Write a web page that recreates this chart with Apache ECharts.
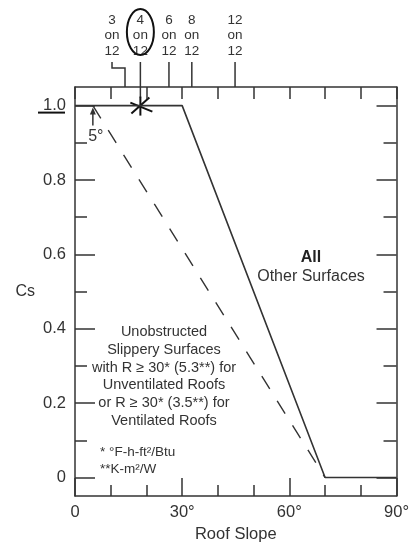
<!DOCTYPE html>
<html lang="en">
<head>
<meta charset="UTF-8">
<title>Roof slope factor Cs</title>
<script src="https://cdn.jsdelivr.net/npm/echarts@6/dist/echarts.min.js"></script>
<style>html,body{margin:0;padding:0;background:#fff;}</style>
</head>
<body>
<div id="main" style="width:412px;height:548px;"></div>
<script type="text/javascript">
// roof slope (deg) vs Cs
var allSurfX = [0, 30, 70, 90];
var allSurfY = [1.0, 1.0, 0, 0];
var slipperyX = [5, 70];
var slipperyY = [1.0, 0];
var yMajor = [0, 0.2, 0.4, 0.6, 0.8, 1.0];
var yMinor = [0.1, 0.3, 0.5, 0.7, 0.9];
var pitchNames = ['3\non\n12', '4\non\n12', '6\non\n12', '8\non\n12', '12\non\n12'];
var pitchAngles = [14.0, 18.3, 26.3, 32.7, 44.8];

var FONT = '"Liberation Sans", Arial, Helvetica, sans-serif';
var INK = '#333';

function zip(xs, ys) {
    var out = [];
    for (var i = 0; i < xs.length; i++) out.push([xs[i], ys[i]]);
    return out;
}

var myChart = echarts.init(document.getElementById('main'));

var option = {
    animation: false,
    backgroundColor: '#fff',
    grid: {left: 75, right: 12, top: 87, bottom: 47},
    xAxis: [{
        type: 'value', position: 'bottom', min: 0, max: 90, interval: 30,
        axisLine: {onZero: false, lineStyle: {color: INK, width: 1.5}},
        axisTick: {inside: true, length: 18, lineStyle: {color: INK, width: 1.5}},
        minorTick: {show: true, splitNumber: 3, length: 11, lineStyle: {color: INK, width: 1.5}},
        splitLine: {show: false},
        axisLabel: {
            margin: 8, fontSize: 16.5, color: INK, fontFamily: FONT,
            formatter: function (v) { return v === 0 ? '0' : v + '°'; }
        },
        name: 'Roof Slope', nameLocation: 'middle', nameGap: 29,
        nameTextStyle: {fontSize: 16.5, color: INK, fontFamily: FONT}
    }, {
        type: 'value', position: 'top', min: 0, max: 90, interval: 10,
        axisLine: {onZero: false, lineStyle: {color: INK, width: 1.5}},
        axisTick: {inside: true, length: 12, lineStyle: {color: INK, width: 1.5}},
        axisLabel: {show: false},
        splitLine: {show: false}
    }],
    yAxis: [{
        type: 'value', position: 'left', min: -0.05, max: 1.05,
        axisLine: {show: true, onZero: false, lineStyle: {color: INK, width: 1.5}},
        axisTick: {show: true, inside: true, length: 20, customValues: yMajor, lineStyle: {color: INK, width: 1.5}},
        axisLabel: {
            customValues: yMajor, margin: 9, fontSize: 16.5, color: INK, fontFamily: FONT,
            formatter: function (v) { return v === 0 ? '0' : v.toFixed(1); }
        },
        splitLine: {show: false},
        name: 'Cs', nameLocation: 'middle', nameGap: 40, nameRotate: 0,
        nameTextStyle: {fontSize: 16, color: INK, fontFamily: FONT}
    }, {
        type: 'value', position: 'left', min: -0.05, max: 1.05,
        axisLine: {show: false, onZero: false},
        axisTick: {show: true, inside: true, length: 12, customValues: yMinor, lineStyle: {color: INK, width: 1.5}},
        axisLabel: {show: false},
        splitLine: {show: false}
    }, {
        type: 'value', position: 'right', min: -0.05, max: 1.05,
        axisLine: {show: true, onZero: false, lineStyle: {color: INK, width: 1.5}},
        axisTick: {show: true, inside: true, length: 20, customValues: yMajor, lineStyle: {color: INK, width: 1.5}},
        axisLabel: {show: false},
        splitLine: {show: false}
    }, {
        type: 'value', position: 'right', min: -0.05, max: 1.05,
        axisLine: {show: false, onZero: false},
        axisTick: {show: true, inside: true, length: 13, customValues: yMinor, lineStyle: {color: INK, width: 1.5}},
        axisLabel: {show: false},
        splitLine: {show: false}
    }],
    series: [{
        name: 'All Other Surfaces', type: 'line', data: zip(allSurfX, allSurfY),
        showSymbol: false, lineStyle: {color: INK, width: 1.6}
    }, {
        name: 'Unobstructed Slippery Surfaces', type: 'line', data: zip(slipperyX, slipperyY),
        showSymbol: false, lineStyle: {color: INK, width: 1.4, type: [15, 14]}
    }]
};

myChart.setOption(option);

// annotations placed through the axes
function px(x, y) { return myChart.convertToPixel({gridIndex: 0}, [x, y]); }

var topY = px(0, 1.05)[1];
var g = [];
for (var i = 0; i < pitchAngles.length; i++) {
    var p = px(pitchAngles[i], 1.0);
    var lx = p[0];
    if (i === 0) {
        lx = p[0] - 13;
        g.push({type: 'polyline', shape: {points: [[p[0], topY], [p[0], topY - 19], [lx, topY - 19], [lx, topY - 25]]},
            style: {stroke: INK, lineWidth: 1.5, fill: null}});
    } else {
        var bottom = (i === 1) ? p[1] - 8 : topY;
        g.push({type: 'line', shape: {x1: lx, y1: bottom, x2: lx, y2: topY - 25}, style: {stroke: INK, lineWidth: 1.5}});
    }
    g.push({type: 'text', x: lx, y: topY - 28, style: {
        text: pitchNames[i], fill: INK, font: '13.5px ' + FONT, align: 'center', verticalAlign: 'bottom', lineHeight: 15.5
    }});
}

// 5 degree arrow
var p5 = px(5, 1.0);
g.push({type: 'line', shape: {x1: p5[0], y1: p5[1] + 20, x2: p5[0], y2: p5[1] + 5}, style: {stroke: INK, lineWidth: 1.5}});
g.push({type: 'polygon', shape: {points: [[p5[0] - 3, p5[1] + 9], [p5[0] + 3, p5[1] + 9], [p5[0], p5[1] + 2]]}, style: {fill: INK}});
g.push({type: 'text', x: p5[0] + 3, y: p5[1] + 31, style: {text: '5°', fill: INK, font: '16px ' + FONT, align: 'center', verticalAlign: 'middle'}});

// notes
g.push({type: 'text', x: 311, y: 258, style: {text: 'All', fill: '#222', font: 'bold 16px ' + FONT, align: 'center', verticalAlign: 'middle'}});
g.push({type: 'text', x: 311, y: 277, style: {text: 'Other Surfaces', fill: INK, font: '16px ' + FONT, align: 'center', verticalAlign: 'middle'}});
g.push({type: 'text', x: 164, y: 323, style: {
    text: 'Unobstructed\nSlippery Surfaces\nwith R ≥ 30* (5.3**) for\nUnventilated Roofs\nor R ≥ 30* (3.5**) for\nVentilated Roofs',
    fill: INK, font: '14.5px ' + FONT, align: 'center', verticalAlign: 'top', lineHeight: 17.8
}});
g.push({type: 'text', x: 100, y: 444, style: {
    text: '* °F-h-ft²/Btu\n**K-m²/W', fill: INK, font: '13.5px ' + FONT, align: 'left', verticalAlign: 'top', lineHeight: 17
}});

// hand marks
var p4 = px(pitchAngles[1], 1.0);
g.push({type: 'ellipse', shape: {cx: p4[0], cy: 32, rx: 13.5, ry: 23}, style: {stroke: '#111', lineWidth: 2, fill: null}});
g.push({type: 'line', shape: {x1: p4[0] - 10, y1: p4[1] - 3, x2: p4[0] + 12, y2: p4[1] + 6}, style: {stroke: '#111', lineWidth: 2}});
g.push({type: 'line', shape: {x1: p4[0] - 9, y1: p4[1] + 8, x2: p4[0] + 9, y2: p4[1] - 8}, style: {stroke: '#111', lineWidth: 2}});
g.push({type: 'line', shape: {x1: p4[0], y1: p4[1] - 9, x2: p4[0], y2: p4[1] + 10}, style: {stroke: '#111', lineWidth: 2}});
var p1 = px(0, 1.0);
g.push({type: 'line', shape: {x1: 38, y1: p1[1] + 7, x2: 65, y2: p1[1] + 7}, style: {stroke: '#111', lineWidth: 2}});

myChart.setOption({graphic: g});
</script>
</body>
</html>
